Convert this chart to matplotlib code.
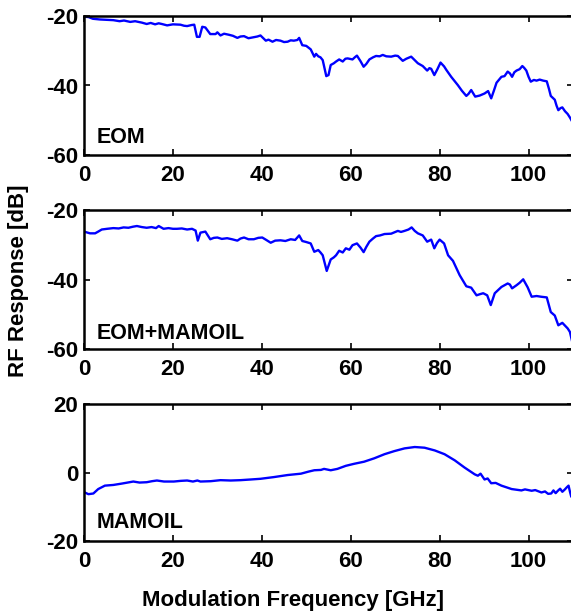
import matplotlib
matplotlib.use('Agg')
import matplotlib.pyplot as plt
import numpy as np

# EOM alone
eom_freq = [0.0, 1.0, 2.0, 3.6, 5.0, 6.6, 8.0, 9.0, 10.4, 11.5, 13.0, 14.1, 15.0, 16.0, 16.8, 17.5,
            18.7, 20.0, 21.7, 22.5, 23.2, 24.2, 24.8, 25.4, 26.0, 26.6, 27.3, 28.0, 28.4, 29.6, 30.0,
            30.7, 31.5, 32.6, 33.5, 34.5, 35.2, 36.0, 37.0, 38.2, 39.0, 39.7, 40.9, 41.5, 42.4, 43.2,
            44.2, 45.0, 45.8, 46.5, 47.2, 48.0, 48.4, 49.1, 50.0, 51.0, 51.8, 52.2, 52.7, 53.2, 53.7,
            54.1, 54.5, 55.0, 55.5, 56.2, 56.7, 57.4, 58.2, 58.8, 59.3, 60.4, 61.0, 61.4, 62.2, 62.9,
            63.5, 64.2, 65.0, 65.7, 66.5, 67.2, 68.0, 69.1, 70.0, 70.6, 71.7, 72.5, 73.6, 74.3, 75.1,
            76.2, 77.2, 77.7, 78.1, 78.8, 79.5, 80.2, 81.0, 81.5, 82.6, 83.4, 84.1, 85.0, 86.0, 86.5,
            87.1, 88.0, 89.0, 90.1, 90.9, 91.6, 92.2, 92.8, 93.9, 94.6, 95.3, 95.8, 96.3, 96.8, 97.3,
            98.0, 98.6, 99.0, 99.5, 100.0, 100.5, 101.2, 101.8, 102.5, 103.3, 104.1, 104.6, 105.0,
            105.9, 106.3, 106.7, 107.2, 107.6, 108.2, 108.8, 109.3, 110.0]
eom_db = [-20.2, -20.3, -20.8, -21.0, -21.1, -21.2, -21.5, -21.3, -21.7, -21.5, -21.9, -22.3, -22.0,
          -22.4, -22.1, -22.3, -22.7, -22.4, -22.5, -22.8, -22.9, -22.6, -22.5, -26.0, -26.0, -23.1,
          -23.3, -24.5, -25.2, -25.2, -24.7, -25.6, -25.1, -25.4, -25.7, -26.3, -25.9, -25.8, -26.4,
          -26.1, -25.9, -25.6, -27.1, -26.8, -27.4, -26.9, -27.1, -27.5, -27.4, -27.0, -27.1, -26.9,
          -26.3, -28.4, -28.6, -29.6, -31.7, -30.9, -31.6, -31.9, -32.7, -35.0, -37.3, -37.0, -34.1,
          -33.6, -33.1, -32.5, -33.1, -32.3, -32.2, -32.5, -31.8, -31.4, -33.0, -34.6, -33.8, -32.5,
          -31.9, -31.5, -31.6, -31.2, -31.6, -31.7, -31.4, -31.5, -32.9, -32.3, -31.7, -32.6, -33.6,
          -34.4, -35.7, -35.0, -35.2, -37.0, -35.3, -33.4, -34.5, -35.5, -37.5, -38.8, -39.9, -41.5,
          -43.0, -42.4, -41.3, -43.2, -42.9, -42.3, -41.6, -43.7, -41.5, -39.2, -37.5, -37.3, -36.0,
          -36.5, -37.5, -36.2, -35.7, -35.3, -34.4, -34.9, -35.7, -37.5, -38.9, -38.4, -38.6, -38.3,
          -38.6, -38.8, -41.0, -43.0, -44.1, -45.8, -47.1, -46.5, -46.3, -47.4, -48.2, -49.2, -50.8]

# EOM followed by the MAMOIL
combo_freq = [0.0, 1.35, 2.5, 3.2, 4.0, 5.2, 6.6, 7.8, 8.9, 10.0, 11.0, 11.9, 13.0, 14.1, 15.2, 16.2,
              16.8, 17.9, 19.0, 20.0, 20.9, 22.0, 23.2, 24.3, 25.1, 25.6, 26.2, 27.3, 28.4, 29.2, 30.0,
              31.0, 32.2, 33.3, 34.5, 35.2, 36.0, 37.0, 38.2, 39.2, 40.1, 41.0, 42.0, 43.0, 44.2, 45.3,
              46.5, 47.5, 48.4, 49.1, 50.0, 51.0, 51.8, 52.7, 53.2, 53.7, 54.2, 54.6, 55.5, 56.2, 56.7,
              57.4, 58.2, 58.9, 59.7, 60.4, 61.4, 62.2, 62.9, 63.5, 64.2, 65.0, 65.7, 66.6, 67.6, 69.1,
              70.6, 71.3, 72.1, 73.0, 73.7, 74.4, 75.1, 76.2, 77.2, 78.1, 78.8, 79.4, 80.0, 81.0, 81.9,
              83.0, 84.5, 86.0, 87.1, 88.3, 89.0, 89.8, 90.7, 91.5, 92.4, 93.9, 95.3, 95.8, 96.3, 97.3,
              98.0, 98.8, 99.8, 100.7, 101.8, 102.8, 104.1, 105.0, 105.9, 106.7, 107.6, 108.8, 109.3,
              110.0]
combo_db = [-26.2, -26.7, -26.7, -26.2, -25.6, -25.4, -25.2, -25.3, -25.0, -25.1, -24.8, -24.6, -24.9,
            -25.1, -24.9, -25.2, -24.6, -25.4, -25.2, -25.4, -25.4, -25.3, -25.6, -25.4, -25.9, -28.8,
            -26.5, -26.2, -28.4, -28.0, -27.9, -28.3, -28.1, -28.4, -28.8, -28.2, -27.9, -28.4, -28.4,
            -28.0, -27.9, -28.6, -29.4, -28.8, -28.7, -28.9, -28.4, -28.6, -27.3, -28.9, -29.2, -29.6,
            -32.0, -31.5, -32.2, -33.0, -35.5, -37.5, -34.2, -33.6, -33.0, -31.7, -32.2, -31.0, -31.4,
            -30.1, -29.6, -30.8, -32.1, -30.6, -29.1, -28.2, -27.5, -27.3, -26.9, -26.8, -26.0, -26.3,
            -26.0, -25.6, -25.0, -26.0, -26.7, -27.3, -29.1, -28.5, -31.0, -29.5, -28.5, -29.6, -33.0,
            -34.6, -38.7, -41.9, -42.3, -44.5, -44.2, -43.9, -44.5, -47.3, -43.9, -42.1, -41.1, -41.4,
            -42.5, -41.6, -40.9, -39.9, -42.2, -44.9, -44.7, -44.9, -45.1, -49.3, -50.3, -53.1, -52.4,
            -54.0, -55.0, -58.8]

# MAMOIL alone
mamoil_freq = [0.0, 1.0, 2.1, 3.2, 4.7, 6.6, 8.5, 9.8, 11.1, 12.5, 14.1, 15.3, 16.4, 18.0, 20.2, 21.8,
               23.2, 24.5, 25.5, 26.2, 28.5, 30.7, 33.0, 35.2, 37.5, 39.7, 42.7, 45.8, 48.8, 50.5, 51.8,
               53.3, 54.0, 55.5, 57.0, 58.9, 60.8, 63.0, 65.3, 67.6, 69.8, 72.1, 74.4, 76.6, 78.9, 81.1,
               83.4, 85.6, 87.9, 88.6, 89.2, 90.1, 90.8, 91.6, 92.6, 93.9, 96.2, 98.4, 99.2, 100.7,
               101.5, 102.9, 103.7, 104.4, 105.1, 105.6, 106.1, 106.6, 107.1, 107.6, 108.1, 108.6,
               109.0, 109.3, 109.6, 110.0]
mamoil_db = [-5.7, -6.3, -6.1, -4.8, -3.8, -3.6, -3.2, -2.9, -2.6, -2.9, -2.8, -2.5, -2.3, -2.6, -2.6,
             -2.4, -2.3, -2.6, -2.3, -2.6, -2.5, -2.2, -2.3, -2.2, -2.0, -1.8, -1.3, -0.7, -0.3, 0.3,
             0.7, 0.8, 1.1, 0.7, 1.1, 2.0, 2.6, 3.2, 4.2, 5.4, 6.3, 7.1, 7.5, 7.3, 6.5, 5.4, 3.6, 1.5,
             -0.5, -0.9, -0.3, -2.0, -1.7, -3.1, -3.0, -3.8, -4.8, -5.2, -4.9, -5.3, -5.1, -5.8, -5.5,
             -6.2, -6.1, -5.2, -6.0, -5.3, -4.7, -5.6, -5.0, -4.3, -3.8, -5.5, -7.0, -7.5]

panel_names = ['EOM', 'EOM+MAMOIL', 'MAMOIL']
panel_ylims = [(-60, -20), (-60, -20), (-20, 20)]
panel_yticks = [[-60, -40, -20], [-60, -40, -20], [-20, 0, 20]]
x_ticks = [0, 20, 40, 60, 80, 100]

FONT = ['Liberation Sans', 'DejaVu Sans']
plt.rcParams['font.family'] = FONT
plt.rcParams['font.weight'] = 'bold'
plt.rcParams['axes.unicode_minus'] = False


def make_figure():
    fig = plt.figure(figsize=(5.71, 6.15), dpi=100)

    left, width = 84 / 571, (573 - 84) / 571
    # (top, bottom) of each panel in pixels
    boxes = [(16, 155), (210, 349.3), (404.3, 541)]
    text_y = [0.086, 0.072, 0.093]
    series = [(eom_freq, eom_db), (combo_freq, combo_db), (mamoil_freq, mamoil_db)]

    for i, ((top, bot), (fx, fy)) in enumerate(zip(boxes, series)):
        ax = fig.add_axes([left, 1 - bot / 615, width, (bot - top) / 615])
        ax.plot(fx, fy, color='#0000ff', linewidth=1.7)
        ax.set_xlim(0, 110)
        ax.set_ylim(*panel_ylims[i])
        ax.set_xticks(x_ticks)
        ax.set_yticks(panel_yticks[i])
        ax.tick_params(direction='in', top=True, right=True, length=4.5, width=1.2,
                       labelsize=16, pad=4)
        ax.tick_params(axis='x', pad=7)
        for lab in ax.get_xticklabels() + ax.get_yticklabels():
            lab.set_fontweight('bold')
        for sp in ax.spines.values():
            sp.set_linewidth(1.8)
        ax.text(0.025, text_y[i], panel_names[i], transform=ax.transAxes,
                fontsize=15.5, fontweight='bold', va='baseline', ha='left')

    fig.text(0.513, 0.014, 'Modulation Frequency [GHz]', fontsize=16, fontweight='bold',
             ha='center', va='baseline')
    fig.text(0.032, 0.544, 'RF Response [dB]', fontsize=16, fontweight='bold',
             rotation=90, ha='center', va='center')

    fig.savefig('out.png', dpi=100)
    plt.close(fig)


if __name__ == '__main__':
    make_figure()
